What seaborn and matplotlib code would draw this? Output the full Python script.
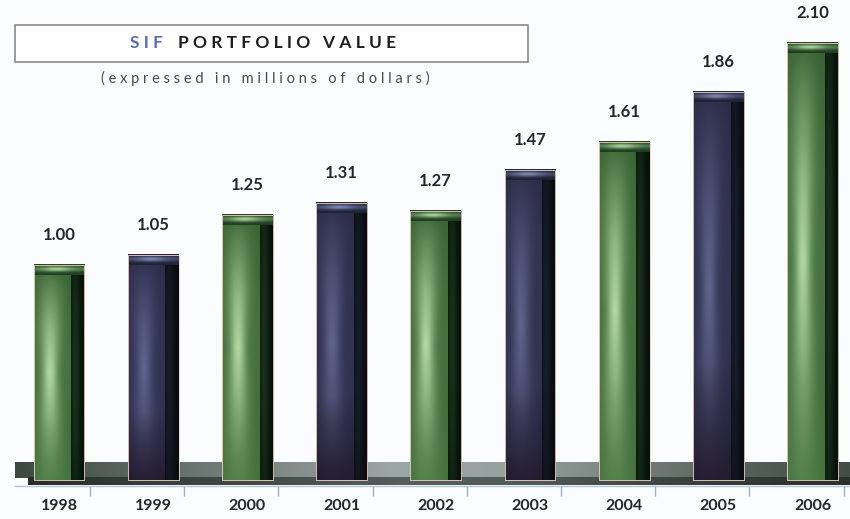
import numpy as np
import pandas as pd
import matplotlib.pyplot as plt
import seaborn as sns
from matplotlib.patches import Rectangle
from matplotlib.colors import to_rgb

years = ['1998', '1999', '2000', '2001', '2002', '2003', '2004', '2005', '2006']
values = [1.00, 1.05, 1.25, 1.31, 1.27, 1.47, 1.61, 1.86, 2.10]
kinds = ['green', 'blue', 'green', 'blue', 'green', 'blue', 'green', 'blue', 'green']

# face / side / cap colours (dark, light)
face_cols = {'green': ('#35602f', '#b8dea8'), 'blue': ('#2a2b46', '#6b719d')}
bottom_cols = {'green': '#4e7c46', 'blue': '#231b2e'}
side_cols = {'green': ('#06100a', '#203c22'), 'blue': ('#0a0b12', '#1b2430')}
cap_cols = {'green': ('#1f3d22', '#a6d493'), 'blue': ('#1e2236', '#7d86b2')}

sns.set_theme(style='white')
plt.rcParams['font.family'] = ['Lato', 'DejaVu Sans']

df = pd.DataFrame({'year': years, 'value': values, 'kind': kinds})

fig = plt.figure(figsize=(8.5, 5.19), dpi=100)
fig.patch.set_facecolor('#fbfcfd')
ax = fig.add_axes([0, 33 / 519, 1, 486 / 519])
ax.set_facecolor('#fbfcfd')

bar_w = 0.54
front_w = 0.40
base = -0.062
sns.barplot(data=df, x='year', y='value', width=bar_w, color='#3a6336',
            linewidth=0, ax=ax, zorder=3)


def blend(c0, c1, t):
    c0 = np.array(to_rgb(c0))
    c1 = np.array(to_rgb(c1))
    return c0 * (1 - t[..., None]) + c1 * t[..., None]


def face_img(kind, h=240, w=60):
    y = np.linspace(0, 1, h)[:, None]
    x = np.linspace(0, 1, w)[None, :]
    spread = 0.2 + 0.35 * np.abs(y - 0.5)
    fx = np.exp(-((x - 0.42) / spread) ** 2)
    fy = np.interp(y, [0, 0.1, 0.3, 0.5, 0.75, 1], [0.05, 0.3, 0.7, 0.95, 0.6, 0.3])
    t = np.clip(fx * fy * 0.85 + 0.15 * fy, 0, 1)
    if kind == 'blue':
        t = t * 0.85
    img = blend(*face_cols[kind], t)
    bt = np.clip((y - 0.7) / 0.3, 0, 1) * np.ones_like(x)
    bt = bt * (0.9 if kind == 'blue' else 0.5)
    bc = np.array(to_rgb(bottom_cols[kind]))
    img = img * (1 - bt[..., None]) + bc * bt[..., None]
    return img


def side_img(kind, h=120, w=20):
    y = np.linspace(0, 1, h)[:, None]
    x = np.linspace(0, 1, w)[None, :]
    t = np.exp(-((x - 0.3) / 0.35) ** 2) * (0.45 + 0.3 * np.sin(np.pi * y))
    return blend(*side_cols[kind], np.clip(t, 0, 1))


def cap_img(kind, h=20, w=60):
    y = np.linspace(0, 1, h)[:, None]
    x = np.linspace(0, 1, w)[None, :]
    t = np.exp(-((y - 0.45) / 0.25) ** 2) * (0.35 + 0.65 * np.exp(-((x - 0.45) / 0.3) ** 2))
    return blend(*cap_cols[kind], np.clip(t, 0, 1))


cap_h = 0.05
for p, v, k in zip(ax.patches, values, kinds):
    x0 = p.get_x()
    p.set_y(base)
    p.set_height(v - base)
    ax.imshow(face_img(k), extent=(x0, x0 + front_w, base, v), aspect='auto',
              zorder=4, interpolation='bilinear')
    ax.imshow(side_img(k), extent=(x0 + front_w, x0 + bar_w, base, v), aspect='auto',
              zorder=4, interpolation='bilinear')
    ax.imshow(cap_img(k), extent=(x0, x0 + bar_w, v - cap_h, v), aspect='auto',
              zorder=5, interpolation='bilinear')
    ax.add_patch(Rectangle((x0, base), bar_w, v - base, fill=False,
                           edgecolor='#f3d6c4', linewidth=0.6, zorder=6))
    ax.text(x0 + bar_w / 2, v + 0.148, f'{v:.2f}', ha='center', va='center',
            fontsize=12, fontweight='bold', color='#262626', zorder=7)

# floor plank behind the bars
fx0, fx1 = -0.467, 8.45
gx = np.linspace(0, 1, 200)[None, :]
floor_t = np.interp(gx, [0, 0.1, 0.45, 0.6, 0.85, 1], [0.05, 0.25, 0.95, 0.9, 0.3, 0.1])
floor_top = blend('#39433d', '#a1acaa', np.repeat(floor_t, 10, axis=0))
ax.imshow(floor_top, extent=(fx0, fx1, -0.052, 0.027), aspect='auto', zorder=2,
          interpolation='bilinear')
floor_bot = blend('#252c28', '#56605c', np.repeat(floor_t, 4, axis=0))
ax.imshow(floor_bot, extent=(fx0 + 0.14, fx1, -0.088, -0.052), aspect='auto', zorder=2,
          interpolation='bilinear')

ax.set_xlim(-0.626, 8.397)
ax.set_ylim(-0.094, 2.314)

for s in ['top', 'left', 'right']:
    ax.spines[s].set_visible(False)
ax.spines['bottom'].set_color('#b3c4d2')
ax.spines['bottom'].set_linewidth(1.0)
ax.spines['bottom'].set_bounds(fx0, fx1)
ax.set_yticks([])
ax.set_xlabel('')
ax.set_ylabel('')
ax.set_xticks(range(len(years)))
ax.set_xticklabels(years, fontsize=11.5, fontweight='bold', color='#262626')
ax.tick_params(axis='x', which='major', length=0, pad=9)
ax.set_xticks(np.arange(len(years)) + 0.33, minor=True)
ax.tick_params(axis='x', which='minor', length=7, width=1.0, color='#9fb2c2',
               direction='out', bottom=True)

# title box
fig.patches.append(Rectangle((15 / 850, (519 - 62) / 519), 513 / 850, 37 / 519,
                             transform=fig.transFigure, facecolor='white',
                             edgecolor='#8a8a8a', linewidth=1.2, zorder=1))
fig.text(130 / 850, (519 - 43) / 519, 'S I F', ha='left', va='center', fontsize=12.5,
         fontweight='bold', color='#5b6db3')
fig.text(178 / 850, (519 - 43) / 519, 'P O R T F O L I O   V A L U E', ha='left',
         va='center', fontsize=12.5, fontweight='bold', color='#1e1e1e')
fig.text(265 / 850, (519 - 78) / 519,
         '( e x p r e s s e d   i n   m i l l i o n s   o f   d o l l a r s )',
         ha='center', va='center', fontsize=10.5, color='#4a4a4a')

fig.savefig('out.png', dpi=100, facecolor=fig.get_facecolor())
